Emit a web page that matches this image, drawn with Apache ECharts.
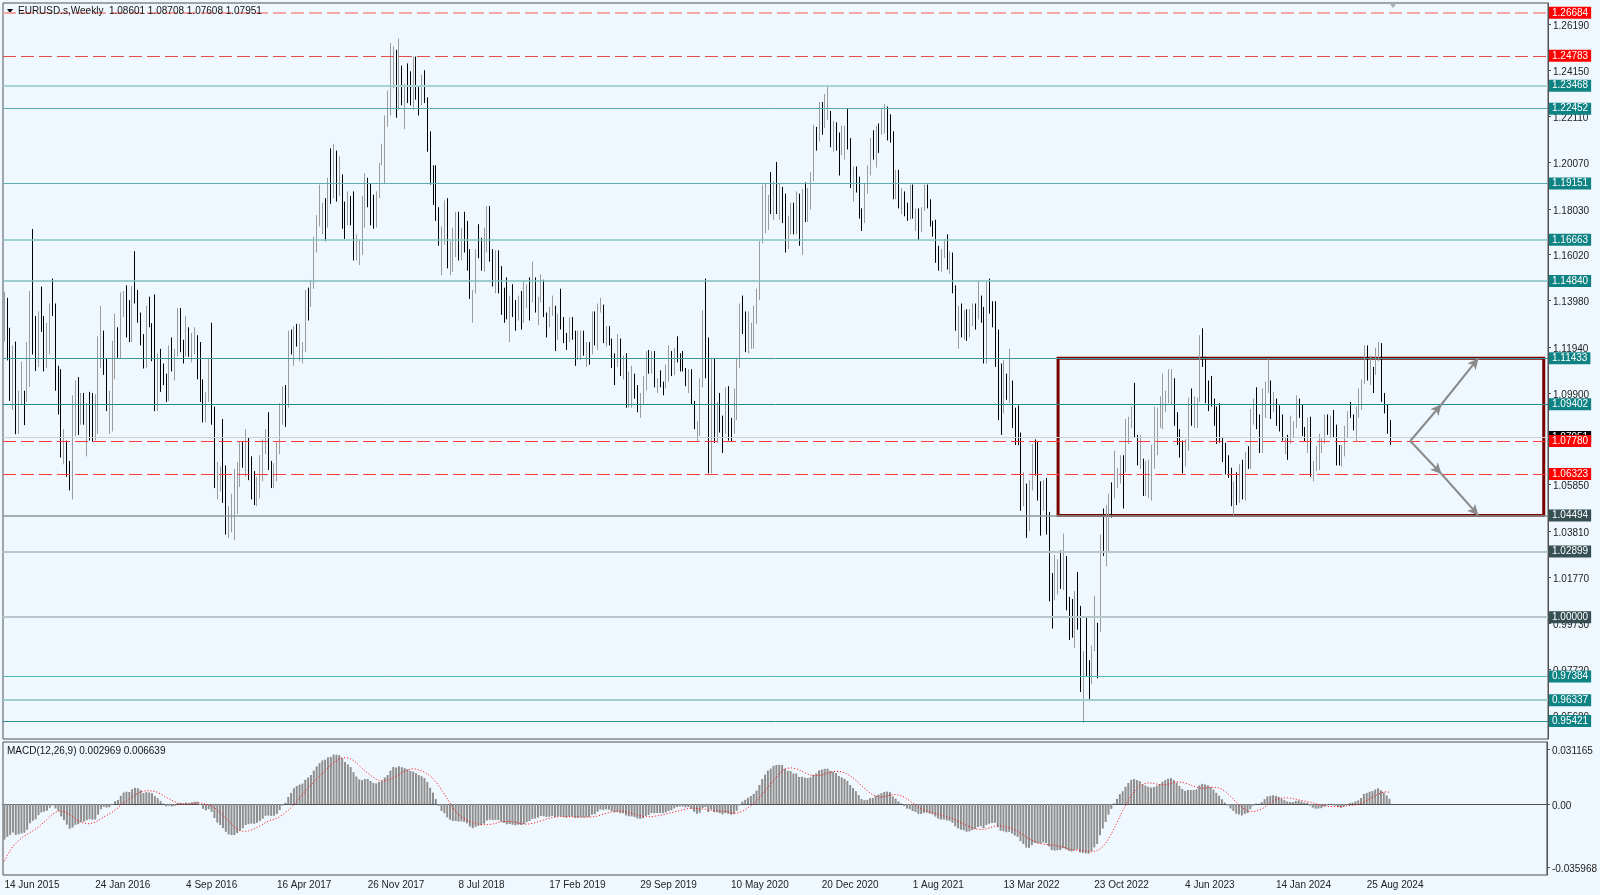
<!DOCTYPE html>
<html>
<head>
<meta charset="utf-8">
<title>EURUSD.s Weekly</title>
<script src="https://cdn.jsdelivr.net/npm/echarts@6/dist/echarts.min.js"></script>
<style>
  html, body { margin: 0; padding: 0; background: #f0f8ff; }
  #chart { width: 1600px; height: 895px; }
</style>
</head>
<body>
<div id="chart"></div>
<script>
// weekly bars, first bar = week of 14 Jun 2015, last = week of 20 Oct 2024
const firstWeek = Date.UTC(2015, 5, 14)
const firstOpen = 1.1265

const weekHigh = [
  1.1436, 1.1410, 1.1278, 1.1200, 1.1217, 1.1000, 1.1129, 1.1000, 1.1215, 1.1440, 1.1714, 1.1330, 1.1350, 1.1460, 1.1330, 1.1300, 1.1385, 1.1495, 1.1385, 1.1110, 1.1095, 1.0830, 1.0780, 1.0690, 1.0980, 1.1045, 1.1060, 1.0990, 1.0990,
  1.0945, 1.0995, 1.0990, 1.0985, 1.1240, 1.1375, 1.1265, 1.1145, 1.1000, 1.1220, 1.1340, 1.1280, 1.1435, 1.1440, 1.1465, 1.1400, 1.1462, 1.1616, 1.1445, 1.1345, 1.1250, 1.1375, 1.1415, 1.1298, 1.1425, 1.1165, 1.1185, 1.1120, 1.1075, 1.1200, 1.1235, 1.1185, 1.1365, 1.1365, 1.1225, 1.1330, 1.1280, 1.1255, 1.1280, 1.1245, 1.1215, 1.1050, 1.0995, 1.1145, 1.1300, 1.0930, 1.0685, 1.0665, 1.0875, 1.0670, 1.0490, 1.0545,
  1.0655, 1.0685, 1.0775, 1.0775, 1.0830, 1.0795, 1.0710, 1.0645, 1.0620, 1.0715, 1.0785, 1.0830, 1.0905, 1.0690, 1.0680, 1.0775, 1.0945, 1.1020, 1.1025, 1.1265, 1.1270, 1.1285, 1.1295, 1.1295, 1.1215, 1.1445, 1.1455, 1.1490, 1.1680, 1.1775, 1.1910, 1.1830, 1.1850, 1.1940, 1.2070, 1.2090, 1.2060, 1.2035, 1.1955, 1.1835, 1.1880, 1.1860, 1.1880, 1.1690, 1.1665, 1.1860, 1.1960, 1.1940, 1.1915, 1.1865, 1.1880, 1.2005, 1.2090,
  1.2215, 1.2325, 1.2535, 1.2520, 1.2505, 1.2555, 1.2435, 1.2355, 1.2445, 1.2410, 1.2475, 1.2475, 1.2345, 1.2395, 1.2415, 1.2295, 1.2145, 1.1995, 1.1995, 1.1810, 1.1725, 1.1840, 1.1850, 1.1660, 1.1720, 1.1790, 1.1790, 1.1720, 1.1790, 1.1750, 1.1625, 1.1445, 1.1625, 1.1735, 1.1675, 1.1720, 1.1815, 1.1815, 1.1625, 1.1620, 1.1620, 1.1550, 1.1455, 1.1500, 1.1420, 1.1470, 1.1400, 1.1420, 1.1440, 1.1485, 1.1470, 1.1500,
  1.1570, 1.1500, 1.1415, 1.1515, 1.1490, 1.1345, 1.1370, 1.1420, 1.1375, 1.1340, 1.1450, 1.1325, 1.1255, 1.1325, 1.1325, 1.1265, 1.1265, 1.1265, 1.1265, 1.1215, 1.1215, 1.1350, 1.1350, 1.1385, 1.1410, 1.1380, 1.1285, 1.1285, 1.1230, 1.1165, 1.1250, 1.1230, 1.1155, 1.1165, 1.1085, 1.1110, 1.1075, 1.1025, 1.0990, 1.1065, 1.1175, 1.1180, 1.1175, 1.1175, 1.1055, 1.1090, 1.1040, 1.1115, 1.1200, 1.1175, 1.1190, 1.1240,
  1.1165, 1.1175, 1.1100, 1.1095, 1.1095, 1.0955, 1.0865, 1.1055, 1.1355, 1.1495, 1.1235, 1.1145, 1.1145, 1.0950, 1.0990, 1.0890, 1.1015, 1.1020, 1.0880, 1.1010, 1.1145, 1.1385, 1.1420, 1.1350, 1.1350, 1.1300, 1.1375, 1.1450, 1.1660, 1.1910, 1.1915, 1.1865, 1.1965, 1.1925, 1.2010, 1.1915, 1.1900, 1.1870, 1.1770, 1.1830, 1.1830, 1.1880, 1.1870, 1.1890, 1.1920, 1.1895, 1.1965, 1.2175, 1.2165, 1.2275, 1.2275, 1.2310,
  1.2350, 1.2235, 1.2190, 1.2185, 1.2140, 1.2170, 1.2170, 1.2245, 1.2115, 1.1990, 1.1990, 1.1945, 1.1805, 1.1915, 1.1995, 1.2115, 1.2150, 1.2170, 1.2180, 1.2245, 1.2265, 1.2255, 1.2220, 1.2145, 1.1975, 1.1975, 1.1895, 1.1880, 1.1830, 1.1910, 1.1910, 1.1805, 1.1805, 1.1810, 1.1910, 1.1910, 1.1845, 1.1750, 1.1755, 1.1640, 1.1625, 1.1670, 1.1690, 1.1615, 1.1610, 1.1465, 1.1375, 1.1385, 1.1355, 1.1360, 1.1360, 1.1385,
  1.1385, 1.1485, 1.1420, 1.1370, 1.1485, 1.1495, 1.1395, 1.1395, 1.1270, 1.1120, 1.1135, 1.1075, 1.1185, 1.1045, 1.0925, 1.0935, 1.0815, 1.0640, 1.0590, 1.0605, 1.0765, 1.0785, 1.0775, 1.0600, 1.0605, 1.0615, 1.0465, 1.0195, 1.0275, 1.0255, 1.0295, 1.0370, 1.0270, 1.0090, 1.0080, 1.0115, 1.0200, 1.0050, 0.9850, 0.9999, 0.9810, 0.9875, 1.0095, 0.9975, 1.0365, 1.0480, 1.0495, 1.0545, 1.0595, 1.0735, 1.0660, 1.0715,
  1.0715, 1.0875, 1.0885, 1.0930, 1.1035, 1.0805, 1.0805, 1.0700, 1.0690, 1.0695, 1.0760, 1.0930, 1.0925, 1.0975, 1.1075, 1.1000, 1.1095, 1.1095, 1.1055, 1.0905, 1.0830, 1.0780, 1.0785, 1.0970, 1.1010, 1.0975, 1.0970, 1.1245, 1.1275, 1.1150, 1.1045, 1.1065, 1.0965, 1.0930, 1.0945, 1.0795, 1.0770, 1.0715, 1.0660, 1.0600, 1.0640, 1.0675, 1.0695, 1.0730, 1.0755, 1.0920, 1.0965, 1.1015, 1.0895, 1.1010, 1.1040, 1.1140,
  1.1045, 1.0995, 1.0965, 1.0935, 1.0895, 1.0795, 1.0805, 1.0890, 1.0865, 1.0980, 1.0965, 1.0940, 1.0840, 1.0880, 1.0885, 1.0690, 1.0755, 1.0810, 1.0790, 1.0895, 1.0895, 1.0890, 1.0915, 1.0850, 1.0760, 1.0760, 1.0845, 1.0910, 1.0950, 1.0895, 1.0930, 1.1010, 1.1050, 1.1200, 1.1200, 1.1155, 1.1105, 1.1190, 1.1215, 1.1210, 1.0990, 1.0940, 1.0871
]

const weekLow = [
  1.1217, 1.1134, 1.0955, 1.0915, 1.0808, 1.0810, 1.0940, 1.0848, 1.0950, 1.1017, 1.1160, 1.1087, 1.1105, 1.1260, 1.1085, 1.1100, 1.1160, 1.1330, 1.1000, 1.0895, 1.0705, 1.0675, 1.0620, 1.0560, 1.0520, 1.0800, 1.0805, 1.0850, 1.0850,
  1.0710, 1.0780, 1.0775, 1.0780, 1.0810, 1.1100, 1.1070, 1.0910, 1.0810, 1.0820, 1.1050, 1.1145, 1.1145, 1.1325, 1.1235, 1.1215, 1.1215, 1.1385, 1.1300, 1.1200, 1.1098, 1.1100, 1.1280, 1.1130, 1.0910, 1.0910, 1.0995, 1.1025, 1.0950, 1.0955, 1.1085, 1.1045, 1.1150, 1.1170, 1.1120, 1.1150, 1.1150, 1.1125, 1.1160, 1.1050, 1.0950, 1.0860, 1.0860, 1.0950, 1.0850, 1.0570, 1.0520, 1.0555, 1.0505, 1.0365, 1.0350, 1.0375,
  1.0340, 1.0455, 1.0575, 1.0660, 1.0620, 1.0605, 1.0520, 1.0495, 1.0490, 1.0525, 1.0600, 1.0720, 1.0650, 1.0570, 1.0570, 1.0600, 1.0720, 1.0850, 1.0840, 1.0925, 1.1160, 1.1110, 1.1195, 1.1130, 1.1120, 1.1170, 1.1310, 1.1370, 1.1450, 1.1610, 1.1725, 1.1690, 1.1660, 1.1720, 1.1825, 1.1850, 1.1835, 1.1860, 1.1715, 1.1670, 1.1730, 1.1730, 1.1575, 1.1575, 1.1555, 1.1600, 1.1720, 1.1810, 1.1730, 1.1715, 1.1720, 1.1850, 1.1995,
  1.1915, 1.2165, 1.2215, 1.2335, 1.2205, 1.2240, 1.2260, 1.2155, 1.2270, 1.2260, 1.2240, 1.2285, 1.2215, 1.2260, 1.2270, 1.2055, 1.1910, 1.1820, 1.1750, 1.1640, 1.1510, 1.1645, 1.1540, 1.1510, 1.1525, 1.1590, 1.1575, 1.1575, 1.1610, 1.1530, 1.1405, 1.1300, 1.1430, 1.1585, 1.1530, 1.1525, 1.1610, 1.1570, 1.1460, 1.1430, 1.1430, 1.1335, 1.1300, 1.1315, 1.1215, 1.1325, 1.1265, 1.1310, 1.1270, 1.1300, 1.1365, 1.1310,
  1.1390, 1.1345, 1.1290, 1.1390, 1.1325, 1.1235, 1.1280, 1.1330, 1.1175, 1.1225, 1.1270, 1.1210, 1.1180, 1.1215, 1.1225, 1.1110, 1.1135, 1.1135, 1.1155, 1.1105, 1.1115, 1.1160, 1.1200, 1.1180, 1.1345, 1.1210, 1.1195, 1.1200, 1.1100, 1.1025, 1.1105, 1.1065, 1.1050, 1.0925, 1.0925, 1.0925, 1.0965, 1.0905, 1.0880, 1.0940, 1.1000, 1.1075, 1.1075, 1.1015, 1.0990, 1.1015, 1.0980, 1.1010, 1.1040, 1.1065, 1.1070, 1.1125,
  1.1085, 1.1085, 1.1020, 1.0990, 1.0940, 1.0830, 1.0775, 1.0800, 1.1015, 1.1055, 1.0635, 1.0635, 1.0770, 1.0770, 1.0815, 1.0725, 1.0810, 1.0780, 1.0775, 1.0810, 1.0870, 1.1100, 1.1250, 1.1170, 1.1165, 1.1185, 1.1185, 1.1295, 1.1400, 1.1650, 1.1695, 1.1710, 1.1780, 1.1755, 1.1780, 1.1755, 1.1740, 1.1610, 1.1625, 1.1690, 1.1690, 1.1690, 1.1640, 1.1600, 1.1745, 1.1745, 1.1800, 1.1925, 1.2060, 1.2100, 1.2130, 1.2160,
  1.2195, 1.2075, 1.2055, 1.2060, 1.1950, 1.2040, 1.2020, 1.2065, 1.1895, 1.1835, 1.1875, 1.1760, 1.1705, 1.1740, 1.1870, 1.1950, 1.2020, 1.1985, 1.2050, 1.2130, 1.2135, 1.2105, 1.2095, 1.1845, 1.1845, 1.1805, 1.1780, 1.1770, 1.1750, 1.1755, 1.1760, 1.1705, 1.1665, 1.1700, 1.1795, 1.1805, 1.1725, 1.1680, 1.1565, 1.1530, 1.1525, 1.1585, 1.1535, 1.1515, 1.1430, 1.1265, 1.1185, 1.1235, 1.1225, 1.1220, 1.1235, 1.1285,
  1.1270, 1.1315, 1.1300, 1.1120, 1.1120, 1.1340, 1.1280, 1.1105, 1.0870, 1.0805, 1.0900, 1.0960, 1.0945, 1.0835, 1.0760, 1.0760, 1.0470, 1.0490, 1.0350, 1.0380, 1.0560, 1.0625, 1.0515, 1.0360, 1.0470, 1.0365, 1.0070, 0.9950, 1.0075, 1.0100, 1.0125, 1.0120, 1.0030, 0.9900, 0.9910, 0.9865, 0.9945, 0.9670, 0.9535, 0.9740, 0.9630, 0.9705, 0.9850, 0.9730, 0.9935, 1.0270, 1.0225, 1.0290, 1.0440, 1.0525, 1.0570, 1.0590,
  1.0480, 1.0640, 1.0765, 1.0835, 1.0795, 1.0670, 1.0655, 1.0535, 1.0535, 1.0525, 1.0515, 1.0655, 1.0715, 1.0835, 1.0830, 1.0905, 1.0945, 1.0940, 1.0845, 1.0760, 1.0705, 1.0635, 1.0665, 1.0735, 1.0845, 1.0835, 1.0835, 1.0950, 1.1105, 1.0945, 1.0910, 1.0930, 1.0845, 1.0765, 1.0770, 1.0685, 1.0630, 1.0615, 1.0490, 1.0450, 1.0495, 1.0505, 1.0520, 1.0515, 1.0655, 1.0655, 1.0850, 1.0830, 1.0725, 1.0725, 1.0880, 1.0990,
  1.0875, 1.0905, 1.0845, 1.0820, 1.0780, 1.0720, 1.0695, 1.0765, 1.0795, 1.0835, 1.0880, 1.0800, 1.0775, 1.0725, 1.0620, 1.0600, 1.0645, 1.0650, 1.0725, 1.0765, 1.0805, 1.0790, 1.0795, 1.0670, 1.0670, 1.0665, 1.0710, 1.0790, 1.0880, 1.0825, 1.0775, 1.0880, 1.0915, 1.1030, 1.1045, 1.1025, 1.0990, 1.1070, 1.1130, 1.0950, 1.0900, 1.0810, 1.0761
]

const weekClose = [
  1.1350, 1.1165, 1.1110, 1.1160, 1.0830, 1.0985, 1.0985, 1.0970, 1.1105, 1.1385, 1.1185, 1.1145, 1.1340, 1.1300, 1.1195, 1.1210, 1.1360, 1.1350, 1.1015, 1.1005, 1.0740, 1.0770, 1.0650, 1.0590, 1.0880, 1.0990, 1.0870, 1.0965, 1.0860,
  1.0930, 1.0915, 1.0795, 1.0830, 1.1160, 1.1255, 1.1130, 1.0935, 1.1000, 1.1155, 1.1265, 1.1165, 1.1390, 1.1400, 1.1285, 1.1225, 1.1455, 1.1405, 1.1310, 1.1220, 1.1115, 1.1365, 1.1285, 1.1275, 1.1115, 1.1135, 1.1050, 1.1035, 1.0975, 1.1175, 1.1085, 1.1160, 1.1325, 1.1200, 1.1155, 1.1230, 1.1155, 1.1225, 1.1240, 1.1200, 1.0970, 1.0885, 1.0985, 1.1140, 1.0885, 1.0590, 1.0590, 1.0665, 1.0560, 1.0450, 1.0455, 1.0520,
  1.0530, 1.0645, 1.0700, 1.0695, 1.0785, 1.0640, 1.0615, 1.0560, 1.0620, 1.0670, 1.0735, 1.0795, 1.0650, 1.0590, 1.0615, 1.0725, 1.0895, 1.0995, 1.0935, 1.1205, 1.1165, 1.1280, 1.1195, 1.1195, 1.1195, 1.1425, 1.1400, 1.1470, 1.1665, 1.1750, 1.1775, 1.1820, 1.1760, 1.1925, 1.1860, 1.2035, 1.1940, 1.1950, 1.1815, 1.1730, 1.1820, 1.1785, 1.1605, 1.1610, 1.1665, 1.1795, 1.1935, 1.1895, 1.1770, 1.1750, 1.1860, 1.2000, 1.2030,
  1.2200, 1.2225, 1.2425, 1.2460, 1.2250, 1.2405, 1.2295, 1.2315, 1.2305, 1.2290, 1.2350, 1.2320, 1.2280, 1.2330, 1.2290, 1.2130, 1.1960, 1.1945, 1.1770, 1.1650, 1.1660, 1.1770, 1.1610, 1.1655, 1.1685, 1.1745, 1.1685, 1.1720, 1.1655, 1.1565, 1.1410, 1.1440, 1.1620, 1.1600, 1.1555, 1.1625, 1.1750, 1.1605, 1.1525, 1.1560, 1.1510, 1.1400, 1.1385, 1.1335, 1.1415, 1.1335, 1.1315, 1.1380, 1.1305, 1.1370, 1.1440, 1.1395,
  1.1470, 1.1365, 1.1405, 1.1455, 1.1325, 1.1295, 1.1335, 1.1365, 1.1235, 1.1325, 1.1300, 1.1220, 1.1215, 1.1300, 1.1245, 1.1150, 1.1200, 1.1235, 1.1160, 1.1205, 1.1170, 1.1330, 1.1210, 1.1370, 1.1370, 1.1225, 1.1270, 1.1220, 1.1125, 1.1110, 1.1200, 1.1090, 1.1145, 1.0990, 1.1030, 1.1075, 1.1015, 1.0940, 1.0980, 1.1040, 1.1145, 1.1080, 1.1165, 1.1020, 1.1050, 1.1020, 1.1015, 1.1060, 1.1120, 1.1080, 1.1175, 1.1160,
  1.1120, 1.1090, 1.1025, 1.1090, 1.0945, 1.0830, 1.0845, 1.1025, 1.1285, 1.1105, 1.0690, 1.1140, 1.0805, 1.0935, 1.0875, 1.0820, 1.0985, 1.0840, 1.0820, 1.0900, 1.1100, 1.1290, 1.1255, 1.1180, 1.1220, 1.1245, 1.1300, 1.1425, 1.1655, 1.1780, 1.1785, 1.1840, 1.1795, 1.1905, 1.1840, 1.1845, 1.1840, 1.1630, 1.1715, 1.1830, 1.1715, 1.1860, 1.1645, 1.1875, 1.1830, 1.1855, 1.1960, 1.2120, 1.2110, 1.2255, 1.2185, 1.2215,
  1.2220, 1.2080, 1.2170, 1.2135, 1.2045, 1.2120, 1.2120, 1.2075, 1.1915, 1.1950, 1.1905, 1.1795, 1.1760, 1.1900, 1.1985, 1.2095, 1.2020, 1.2165, 1.2140, 1.2180, 1.2195, 1.2165, 1.2105, 1.1860, 1.1935, 1.1865, 1.1875, 1.1810, 1.1770, 1.1870, 1.1760, 1.1795, 1.1700, 1.1795, 1.1880, 1.1815, 1.1725, 1.1720, 1.1595, 1.1570, 1.1600, 1.1645, 1.1560, 1.1570, 1.1445, 1.1285, 1.1320, 1.1315, 1.1320, 1.1240, 1.1320, 1.1370,
  1.1360, 1.1410, 1.1345, 1.1145, 1.1450, 1.1350, 1.1320, 1.1270, 1.0930, 1.0910, 1.1050, 1.0985, 1.1045, 1.0875, 1.0810, 1.0795, 1.0545, 1.0550, 1.0410, 1.0560, 1.0735, 1.0720, 1.0520, 1.0495, 1.0555, 1.0425, 1.0180, 1.0080, 1.0210, 1.0220, 1.0180, 1.0260, 1.0035, 0.9965, 0.9955, 1.0045, 1.0015, 0.9690, 0.9800, 0.9745, 0.9720, 0.9860, 0.9965, 0.9960, 1.0355, 1.0325, 1.0395, 1.0535, 1.0530, 1.0585, 1.0615, 1.0705,
  1.0645, 1.0830, 1.0855, 1.0870, 1.0795, 1.0680, 1.0695, 1.0545, 1.0635, 1.0640, 1.0670, 1.0760, 1.0840, 1.0900, 1.0990, 1.0990, 1.1020, 1.1020, 1.0850, 1.0805, 1.0725, 1.0710, 1.0750, 1.0940, 1.0895, 1.0910, 1.0965, 1.1230, 1.1125, 1.1015, 1.1005, 1.0945, 1.0870, 1.0795, 1.0775, 1.0700, 1.0660, 1.0645, 1.0575, 1.0585, 1.0510, 1.0595, 1.0565, 1.0725, 1.0685, 1.0915, 1.0940, 1.0885, 1.0760, 1.0895, 1.1010, 1.1040,
  1.0940, 1.0950, 1.0895, 1.0850, 1.0785, 1.0785, 1.0775, 1.0820, 1.0840, 1.0940, 1.0890, 1.0810, 1.0790, 1.0835, 1.0640, 1.0655, 1.0695, 1.0760, 1.0770, 1.0870, 1.0845, 1.0850, 1.0800, 1.0705, 1.0690, 1.0710, 1.0840, 1.0905, 1.0880, 1.0855, 1.0910, 1.0915, 1.1030, 1.1190, 1.1050, 1.1085, 1.1075, 1.1165, 1.1165, 1.0975, 1.0935, 1.0865, 1.0795
]

// closes before the visible range, only used to seed the MACD averages
const warmupClose = [
  1.3595, 1.3645, 1.3590, 1.3605, 1.3525, 1.3430, 1.3430, 1.3410, 1.3400, 1.3240, 1.3130, 1.2950, 1.2965, 1.2830, 1.2685, 1.2515, 1.2630, 1.2760, 1.2670, 1.2525, 1.2455, 1.2405, 1.2390, 1.2450, 1.2285, 1.2465,
  1.2225, 1.2190, 1.2000, 1.1840, 1.1560, 1.1205, 1.1290, 1.1315, 1.1385, 1.1375, 1.1195, 1.0845, 1.0495, 1.0820, 1.0890, 1.0970, 1.0600, 1.0805, 1.0870, 1.1200, 1.1200, 1.1445, 1.1015, 1.0990, 1.1110, 1.1265
]

const dateTicks = ['14 Jun 2015', '24 Jan 2016', '4 Sep 2016', '16 Apr 2017', '26 Nov 2017', '8 Jul 2018', '17 Feb 2019', '29 Sep 2019',
  '10 May 2020', '20 Dec 2020', '1 Aug 2021', '13 Mar 2022', '23 Oct 2022', '4 Jun 2023', '14 Jan 2024', '25 Aug 2024']
const priceTicks = [1.26190, 1.24150, 1.22110, 1.20070, 1.18030, 1.16020, 1.13980, 1.11940, 1.09900, 1.07860, 1.05850, 1.03810, 1.01770, 0.99730, 0.97720, 0.95680]
const macdTicks = [0.031165, 0, -0.035968]

const tealLevels = [1.23468, 1.22452, 1.19151, 1.16663, 1.14840, 1.11433, 1.09402, 0.97384, 0.96337, 0.95421]
const greyLevels = [1.04494, 1.02899, 1.00000]
const redLevels = [1.26684, 1.24783, 1.07780, 1.06323]
const lastPrice = 1.07951
const rangeBox = { from: 371, to: 542, top: 1.11433, bottom: 1.04494 }
const arrowStart = 495
const arrowMid = 506
const arrowEnd = 519

const FONT = 'Liberation Sans, Arial, sans-serif'
const futureWeeks = 55
const months = ['Jan', 'Feb', 'Mar', 'Apr', 'May', 'Jun', 'Jul', 'Aug', 'Sep', 'Oct', 'Nov', 'Dec']

function weekName (i) {
  const d = new Date(firstWeek + i * 7 * 86400000)
  return d.getUTCDate() + ' ' + months[d.getUTCMonth()] + ' ' + d.getUTCFullYear()
}

const categories = []
for (let i = 0; i < weekClose.length + futureWeeks; i++) categories.push(weekName(i))

// weekly bars open where the previous week closed
const candles = weekClose.map((c, i) => {
  const o = i === 0 ? firstOpen : weekClose[i - 1]
  return [o, c, weekLow[i], weekHigh[i]]
})

// MACD(12,26,9) as the terminal computes it: EMA12 - EMA26, signal = SMA9
function ema (arr, n) {
  const k = 2 / (n + 1)
  const out = []
  let prev = arr[0]
  for (let i = 0; i < arr.length; i++) {
    prev = i === 0 ? arr[0] : arr[i] * k + prev * (1 - k)
    out.push(prev)
  }
  return out
}
const allClose = warmupClose.concat(weekClose)
const e12 = ema(allClose, 12)
const e26 = ema(allClose, 26)
const macdAll = e12.map((v, i) => v - e26[i])
const signalAll = macdAll.map((v, i) => {
  const s = macdAll.slice(Math.max(0, i - 8), i + 1)
  return s.reduce((a, b) => a + b, 0) / s.length
})
const macd = macdAll.slice(warmupClose.length)
const signal = signalAll.slice(warmupClose.length)

const tickSet = new Set(dateTicks)
const showTick = (idx, val) => tickSet.has(val)

const shade = {
  1.23468: ['#a6d3d3', 2], 1.22452: ['#55a9a9', 1], 1.19151: ['#5aaeae', 1], 1.16663: ['#88c5c5', 1.5],
  1.14840: ['#7dbfbf', 1.5], 1.11433: ['#3a9a9a', 1], 1.09402: ['#1f8e8e', 1], 0.97384: ['#56b5b5', 1],
  0.96337: ['#9fd0d0', 2], 0.95421: ['#2a9090', 1],
  1.04494: ['#8a9a9a', 1.5], 1.02899: ['#b7c7cb', 2], 1.00000: ['#b7c7cb', 2],
  1.26684: ['#f3a7a7', 2], 1.24783: ['#e24c4c', 1], 1.07780: ['#ff3a3a', 1], 1.06323: ['#ff3a3a', 1]
}

const tagLabel = {
  show: true, position: 'end', distance: 1, color: '#ffffff', padding: [1, 3, 0, 3], lineHeight: 11,
  fontSize: 10, fontFamily: FONT
}

function levelLine (v, tagColor, dashed) {
  const s = shade[v] || ['#888', 1]
  return {
    yAxis: v,
    lineStyle: { color: s[0], width: s[1], type: dashed ? [13, 5] : 'solid' },
    label: Object.assign({}, tagLabel, { formatter: v.toFixed(5), backgroundColor: tagColor })
  }
}

function arrowSeg (x1, y1, x2, y2) {
  return [
    { coord: [x1, y1], symbol: 'none' },
    { coord: [x2, y2], symbol: 'arrow', symbolSize: [8, 11], lineStyle: { color: '#8a8a8a', width: 2, type: 'solid' }, label: { show: false } }
  ]
}

const markLines = [
  {
    yAxis: lastPrice,
    lineStyle: { color: '#cfcfcf', width: 1, type: 'solid' },
    label: Object.assign({}, tagLabel, { formatter: lastPrice.toFixed(5), backgroundColor: '#000000' })
  }
]
tealLevels.forEach(v => markLines.push(levelLine(v, '#0f8383', false)))
greyLevels.forEach(v => markLines.push(levelLine(v, '#354f52', false)))
redLevels.forEach(v => markLines.push(levelLine(v, '#ff0000', true)))
markLines.push(arrowSeg(arrowStart, 1.07780, arrowMid, 1.09402))
markLines.push(arrowSeg(arrowMid, 1.09402, arrowEnd, 1.11433))
markLines.push(arrowSeg(arrowStart, 1.07780, arrowMid, 1.06323))
markLines.push(arrowSeg(arrowMid, 1.06323, arrowEnd, 1.04494))

// axis text sits a couple of pixels under its tick, as in the terminal
const axisText = { fontSize: 10, color: '#222', fontFamily: FONT, padding: [4, 0, 0, 0] }

const chart = echarts.init(document.getElementById('chart'))
const option = {
  animation: false,
  backgroundColor: '#f0f8ff',
  textStyle: { fontFamily: FONT },
  title: [
    { text: 'EURUSD.s,Weekly  1.08601 1.08708 1.07608 1.07951', left: 18, top: 6, padding: 0, textStyle: { fontSize: 10, fontWeight: 'normal', color: '#111', fontFamily: FONT } },
    { text: 'MACD(12,26,9) 0.002969 0.006639', left: 7, top: 746, padding: 0, textStyle: { fontSize: 10, fontWeight: 'normal', color: '#111', fontFamily: FONT } }
  ],
  graphic: [
    { type: 'polygon', shape: { points: [[7, 9], [13, 9], [10, 13]] }, style: { fill: '#000' } },
    { type: 'polygon', shape: { points: [[1389, 3], [1397, 3], [1393, 8]] }, style: { fill: '#b0b0b0' } }
  ],
  grid: [
    { left: 3, top: 3, width: 1545, height: 736, show: true, borderColor: '#505050', borderWidth: 1, backgroundColor: 'transparent' },
    { left: 3, top: 742, width: 1545, height: 133, show: true, borderColor: '#505050', borderWidth: 1, backgroundColor: 'transparent' }
  ],
  xAxis: [
    { type: 'category', gridIndex: 0, data: categories, boundaryGap: true, show: false },
    {
      type: 'category', gridIndex: 1, data: categories, boundaryGap: true,
      axisLine: { lineStyle: { color: '#505050' } },
      axisTick: { interval: showTick, alignWithLabel: true, length: 4, lineStyle: { color: '#505050' } },
      axisLabel: { interval: showTick, align: 'left', margin: 5, fontSize: 10, color: '#222', fontFamily: FONT },
      splitLine: { show: false }
    }
  ],
  yAxis: [
    {
      type: 'value', gridIndex: 0, position: 'right', min: 0.94623, max: 1.27117,
      axisLine: { show: true, lineStyle: { color: '#505050' } },
      axisTick: { show: true, length: 3, customValues: priceTicks, lineStyle: { color: '#505050' } },
      axisLabel: {
        customValues: priceTicks, margin: 5, formatter: v => '{t|' + v.toFixed(5) + '}',
        rich: { t: axisText }
      },
      splitLine: { show: false }
    },
    {
      type: 'value', gridIndex: 1, position: 'right', min: -0.040456, max: 0.035328,
      axisLine: { show: true, lineStyle: { color: '#505050' } },
      axisTick: { show: true, length: 3, customValues: macdTicks, lineStyle: { color: '#505050' } },
      axisLabel: {
        customValues: macdTicks, margin: 5, formatter: v => '{t|' + (v === 0 ? '0.00' : v.toFixed(6)) + '}',
        rich: { t: axisText }
      },
      splitLine: { show: false }
    }
  ],
  series: [
    {
      type: 'candlestick', xAxisIndex: 0, yAxisIndex: 0, data: candles, barWidth: 1.3,
      itemStyle: { color: '#bdbdbd', color0: '#000000', borderColor: '#9c9c9c', borderColor0: '#000000', borderWidth: 1 },
      markLine: { silent: true, symbol: 'none', precision: 5, animation: false, data: markLines },
      markArea: {
        silent: true,
        itemStyle: { color: 'rgba(0,0,0,0)', borderColor: '#7a0000', borderWidth: 3 },
        data: [[{ xAxis: rangeBox.from, yAxis: rangeBox.top }, { xAxis: rangeBox.to, yAxis: rangeBox.bottom }]]
      }
    },
    {
      type: 'bar', xAxisIndex: 1, yAxisIndex: 1, data: macd, barWidth: 2,
      itemStyle: { color: '#8e8e8e' }
    },
    {
      type: 'line', xAxisIndex: 1, yAxisIndex: 1, data: signal, symbol: 'none',
      lineStyle: { color: '#ff0000', width: 1, type: [1, 2] }, z: 3
    }
  ]
}
chart.setOption(option)
</script>
</body>
</html>
